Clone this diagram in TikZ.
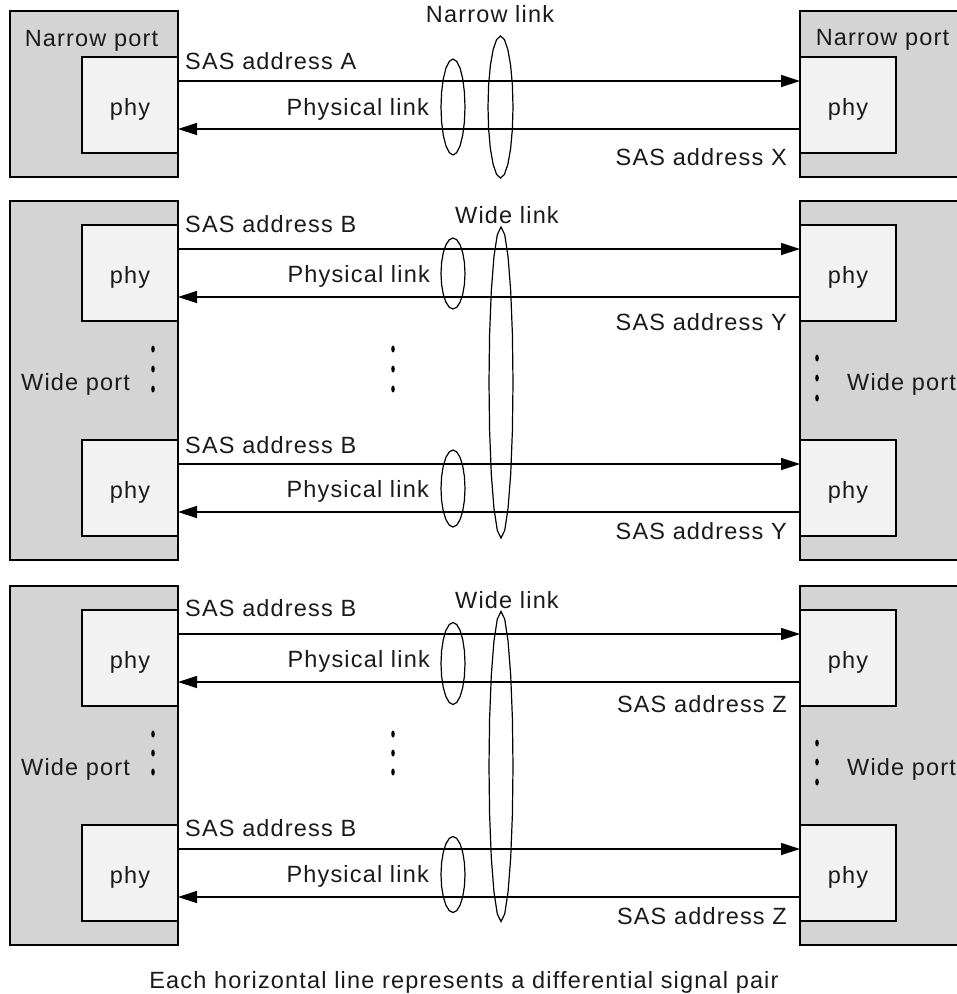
\documentclass[tikz,border=0pt]{standalone}
\usepackage{fontspec}
\setmainfont[LetterSpace=5]{Liberation Sans}
\usetikzlibrary{arrows.meta}
\definecolor{portgray}{HTML}{D4D4D4}
\definecolor{phygray}{HTML}{F2F2F2}
\definecolor{textc}{HTML}{1A1A1A}
\newcommand\lensshape[4]{\draw[lensline] plot[domain=90:450,samples=21] ({#1+#3*cos(\x)},{#2+#4*sin(\x)}) -- cycle;}
\newcommand\vdotsat[2]{\fill (#1,#2) ellipse [x radius=1.8pt, y radius=3.5pt];}
\begin{document}
\begin{tikzpicture}[x=1pt,y=-1pt,
  font=\fontsize{23.5}{28}\selectfont,
  port/.style={draw, fill=portgray, line width=1.2pt, inner sep=0pt, outer sep=0pt, minimum width=#1},
  phybox/.style={draw, fill=phygray, line width=1.2pt, inner sep=0pt, outer sep=0pt,
    minimum width=96pt, minimum height=96pt, text height=20pt, text depth=0pt, text=textc},
  lbl/.style={inner sep=0pt, text=textc},
  sig/.style={line width=1.2pt, -{Triangle[length=19pt,width=12pt]}},
  lensline/.style={line width=1.2pt}]
\clip (0,0) rectangle (957,994);
\fill[white] (0,0) rectangle (957,994);

% ---------- panel 1 : narrow link ----------
\node[port=168pt, minimum height=166pt] (lp1) at (94,94) {};
\node[port=172pt, minimum height=166pt] (rp1) at (886,94) {};
\node[phybox] (pl1) at (130,105) {phy};
\node[phybox] (pr1) at (848,105) {phy};
\node[lbl,anchor=base] (np1) at (91.5,46) {Narrow port};
\node[lbl,anchor=base] (np2) at (882.5,45) {Narrow port};
\draw[sig] ([yshift=24pt]pl1.east) -- ([yshift=24pt]pr1.west);
\draw[sig] ([yshift=-24pt]pr1.west) -- ([yshift=-24pt]pl1.east);
\node[lbl,anchor=base west] (sa1) at (185,69) {SAS address A};
\node[lbl,anchor=base east] (ph1) at (429,115) {Physical link};
\node[lbl,anchor=base east] (sx1) at (787,165) {SAS address X};
\node[lbl,anchor=base] (nl1) at (490,22) {Narrow link};
\lensshape{453}{107}{12}{48}
\lensshape{500.5}{107}{12.5}{71}

% ---------- panel 2 : wide link ----------
\node[port=168pt, minimum height=359pt] (lp2) at (94,380.5) {};
\node[port=172pt, minimum height=359pt] (rp2) at (886,380.5) {};
\node[phybox] (pl2a) at (130,273) {phy};
\node[phybox] (pr2a) at (848,273) {phy};
\node[phybox] (pl2b) at (130,488) {phy};
\node[phybox] (pr2b) at (848,488) {phy};
\draw[sig] ([yshift=24pt]pl2a.east) -- ([yshift=24pt]pr2a.west);
\draw[sig] ([yshift=-24pt]pr2a.west) -- ([yshift=-24pt]pl2a.east);
\draw[sig] ([yshift=24pt]pl2b.east) -- ([yshift=24pt]pr2b.west);
\draw[sig] ([yshift=-24pt]pr2b.west) -- ([yshift=-24pt]pl2b.east);
\node[lbl,anchor=base west] (sb2a) at (185,232) {SAS address B};
\node[lbl,anchor=base west] (sb2b) at (185,453) {SAS address B};
\node[lbl,anchor=base east] (ph2a) at (430,282) {Physical link};
\node[lbl,anchor=base east] (ph2b) at (429,497) {Physical link};
\node[lbl,anchor=base east] (sy2a) at (787,330) {SAS address Y};
\node[lbl,anchor=base east] (sy2b) at (787,539) {SAS address Y};
\node[lbl,anchor=base] (wl2) at (507,223) {Wide link};
\node[lbl,anchor=base west] (wp2l) at (21,390) {Wide port};
\node[lbl,anchor=base west] (wp2r) at (847,390) {Wide port};
\lensshape{453}{273.5}{12}{35.5}
\lensshape{453}{488.5}{12}{38.5}
\lensshape{501}{382.5}{12}{155.5}
\vdotsat{153}{349}\vdotsat{153}{369}\vdotsat{153}{389}
\vdotsat{393}{349}\vdotsat{393}{369}\vdotsat{393}{389}
\vdotsat{817}{358}\vdotsat{817}{378}\vdotsat{817}{398}

% ---------- panel 3 : wide link ----------
\node[port=168pt, minimum height=359pt] (lp3) at (94,765.5) {};
\node[port=172pt, minimum height=359pt] (rp3) at (886,765.5) {};
\node[phybox] (pl3a) at (130,658) {phy};
\node[phybox] (pr3a) at (848,658) {phy};
\node[phybox] (pl3b) at (130,873) {phy};
\node[phybox] (pr3b) at (848,873) {phy};
\draw[sig] ([yshift=24pt]pl3a.east) -- ([yshift=24pt]pr3a.west);
\draw[sig] ([yshift=-24pt]pr3a.west) -- ([yshift=-24pt]pl3a.east);
\draw[sig] ([yshift=24pt]pl3b.east) -- ([yshift=24pt]pr3b.west);
\draw[sig] ([yshift=-24pt]pr3b.west) -- ([yshift=-24pt]pl3b.east);
\node[lbl,anchor=base west] (sb3a) at (185,616) {SAS address B};
\node[lbl,anchor=base west] (sb3b) at (185,836) {SAS address B};
\node[lbl,anchor=base east] (ph3a) at (430,667) {Physical link};
\node[lbl,anchor=base east] (ph3b) at (429,882) {Physical link};
\node[lbl,anchor=base east] (sz3a) at (787,712) {SAS address Z};
\node[lbl,anchor=base east] (sz3b) at (787,924) {SAS address Z};
\node[lbl,anchor=base] (wl3) at (507,608) {Wide link};
\node[lbl,anchor=base west] (wp3l) at (21,775) {Wide port};
\node[lbl,anchor=base west] (wp3r) at (847,775) {Wide port};
\lensshape{453}{663.5}{12}{41}
\lensshape{453}{874.5}{12}{38}
\lensshape{501}{766.5}{12}{155}
\vdotsat{153}{734}\vdotsat{153}{753}\vdotsat{153}{772}
\vdotsat{393}{734}\vdotsat{393}{753}\vdotsat{393}{772}
\vdotsat{817}{743}\vdotsat{817}{762}\vdotsat{817}{782}

% ---------- caption ----------
\node[lbl,anchor=base] (cap) at (464,988) {Each horizontal line represents a differential signal pair};
\end{tikzpicture}
\end{document}
